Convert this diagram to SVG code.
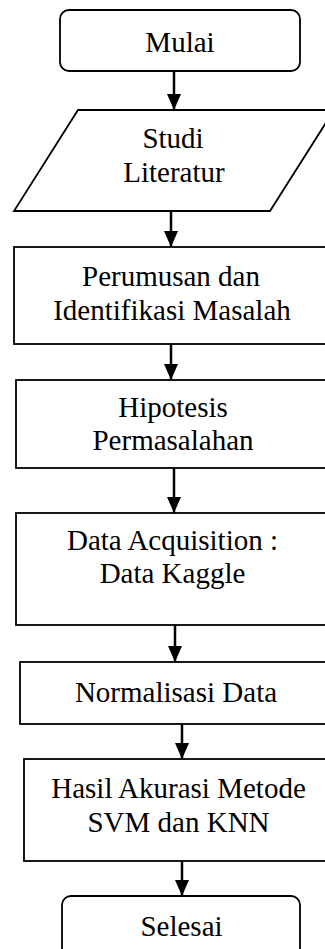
<svg xmlns="http://www.w3.org/2000/svg" width="325" height="949" viewBox="0 0 325 949">
<style>
.shape{fill:#fff;stroke:#000;stroke-width:1.8}
.lbl{font-family:"Liberation Serif","Times New Roman",serif;font-size:29px;fill:#000;text-anchor:middle}
.conn{stroke:#000;stroke-width:2.5;fill:none}
</style>
<defs>
<marker id="ah" viewBox="0 0 16 14" refX="16" refY="7" markerWidth="16" markerHeight="14" markerUnits="userSpaceOnUse" orient="auto">
<path d="M0,0 L16,7 L0,14 Z" fill="#000"/>
</marker>
</defs>
<rect width="325" height="949" fill="#fff"/>
<g id="connectors">
<line class="conn" x1="174" y1="71" x2="174" y2="110" marker-end="url(#ah)"/>
<line class="conn" x1="171" y1="211" x2="171" y2="247" marker-end="url(#ah)"/>
<line class="conn" x1="171" y1="344" x2="171" y2="380" marker-end="url(#ah)"/>
<line class="conn" x1="174" y1="468" x2="174" y2="513" marker-end="url(#ah)"/>
<line class="conn" x1="175" y1="625" x2="175" y2="662" marker-end="url(#ah)"/>
<line class="conn" x1="182" y1="724" x2="182" y2="759" marker-end="url(#ah)"/>
<line class="conn" x1="182" y1="861" x2="182" y2="896" marker-end="url(#ah)"/>
</g>
<g id="mulai">
<rect class="shape" x="60" y="10" width="240" height="61" rx="9"/>
<text class="lbl" x="180" y="52">Mulai</text>
</g>
<g id="studi">
<polygon class="shape" points="78,110 334,110 270,211 14,211"/>
<text class="lbl" x="173" y="148">Studi</text>
<text class="lbl" x="174" y="182">Literatur</text>
</g>
<g id="perumusan">
<rect class="shape" x="14" y="247" width="314" height="97"/>
<text class="lbl" x="171" y="286">Perumusan dan</text>
<text class="lbl" x="172" y="320">Identifikasi Masalah</text>
</g>
<g id="hipotesis">
<rect class="shape" x="16" y="380" width="314" height="88"/>
<text class="lbl" x="173" y="417">Hipotesis</text>
<text class="lbl" x="173" y="450">Permasalahan</text>
</g>
<g id="data">
<rect class="shape" x="16" y="513" width="314" height="112"/>
<text class="lbl" x="172.5" y="550">Data Acquisition :</text>
<text class="lbl" x="172.5" y="583">Data Kaggle</text>
</g>
<g id="normalisasi">
<rect class="shape" x="20" y="662" width="312" height="62"/>
<text class="lbl" x="176" y="702">Normalisasi Data</text>
</g>
<g id="hasil">
<rect class="shape" x="24" y="759" width="310" height="102"/>
<text class="lbl" x="178.5" y="798">Hasil Akurasi Metode</text>
<text class="lbl" x="178.5" y="832">SVM dan KNN</text>
</g>
<g id="selesai">
<rect class="shape" x="62" y="896" width="238" height="62" rx="9"/>
<text class="lbl" x="181.5" y="936">Selesai</text>
</g>
</svg>
